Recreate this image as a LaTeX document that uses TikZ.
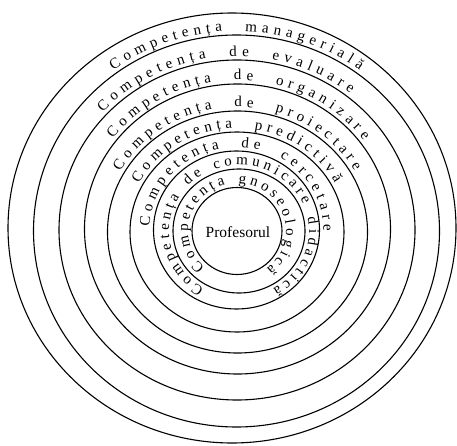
\documentclass[tikz,border=0pt]{standalone}
\usepackage{fontspec}
\setmainfont{Liberation Serif}
\usetikzlibrary{decorations.text}

\newcommand{\arcfont}{\fontsize{15}{17}\selectfont}
\newcommand{\wgap}{\hspace{13pt}}
\newcommand{\ngap}{\hspace{6pt}}

\tikzset{
    ring/.style={draw, line width=1.1pt},
    bandtext/.style={decorate, decoration={text along path,
        text align=fit to path, text={|\arcfont|#1}}}
}

\begin{document}
\begin{tikzpicture}[x=1pt, y=1pt]
\useasboundingbox (0,0) rectangle (457,445);

% centres of the rings, outer to inner
\coordinate (o1) at (232,217);
\coordinate (o2) at (236.5,214);
\coordinate (o3) at (237,215);
\coordinate (o4) at (237.5,216);
\coordinate (o5) at (237.5,213);
\coordinate (o6) at (237,213);
\coordinate (o7) at (236.5,215);
\coordinate (o8) at (239,214);
\coordinate (o9) at (237,214);

\draw[ring] (o1) ellipse[x radius=224pt, y radius=215pt];
\draw[ring] (o2) ellipse[x radius=203pt, y radius=196pt];
\draw[ring] (o3) ellipse[x radius=178pt, y radius=170pt];
\draw[ring] (o4) ellipse[x radius=153pt, y radius=145pt];
\draw[ring] (o5) ellipse[x radius=130pt, y radius=121pt];
\draw[ring] (o6) ellipse[x radius=107pt, y radius=100pt];
\draw[ring] (o7) ellipse[x radius=83pt, y radius=79pt];
\draw[ring] (o8) ellipse[x radius=66pt, y radius=62pt];
\draw[ring] (o9) ellipse[x radius=45pt, y radius=43.5pt];

\node (prof) at (238,213) {\fontsize{15.5}{18}\selectfont Profesorul};

% texts in the bands
\path[bandtext={Competența{\wgap}managerială}]
    ([shift={(126.5:207pt and 200pt)}]o2) arc[start angle=126.5, end angle=53.5, x radius=207pt, y radius=200pt];
\path[bandtext={Competența{\wgap}de{\wgap}evaluare}]
    ([shift={(137.5:182pt and 174pt)}]o3) arc[start angle=137.5, end angle=51.5, x radius=182pt, y radius=174pt];
\path[bandtext={Competența{\wgap}de{\wgap}organizare}]
    ([shift={(142.5:157pt and 149pt)}]o4) arc[start angle=142.5, end angle=36.5, x radius=157pt, y radius=149pt];
\path[bandtext={Competența{\wgap}de{\wgap}proiectare}]
    ([shift={(151:134pt and 125pt)}]o5) arc[start angle=151, end angle=29, x radius=134pt, y radius=125pt];
\path[bandtext={Competența{\wgap}predictivă}]
    ([shift={(152:111pt and 104pt)}]o6) arc[start angle=152, end angle=28, x radius=111pt, y radius=104pt];
\path[bandtext={Competența{\wgap}de{\wgap}cercetare}]
    ([shift={(177.5:87pt and 83pt)}]o7) arc[start angle=177.5, end angle=-1, x radius=87pt, y radius=83pt];
\path[bandtext={Competența{\ngap}de{\ngap}comunicare{\ngap}didactică}]
    ([shift={(240:70pt and 66pt)}]o8) arc[start angle=240, end angle=-61, x radius=70pt, y radius=66pt];
\path[bandtext={Competența{\ngap}gnoseologică}]
    ([shift={(229:49pt and 47.5pt)}]o9) arc[start angle=229, end angle=-53, x radius=49pt, y radius=47.5pt];
\end{tikzpicture}
\end{document}
